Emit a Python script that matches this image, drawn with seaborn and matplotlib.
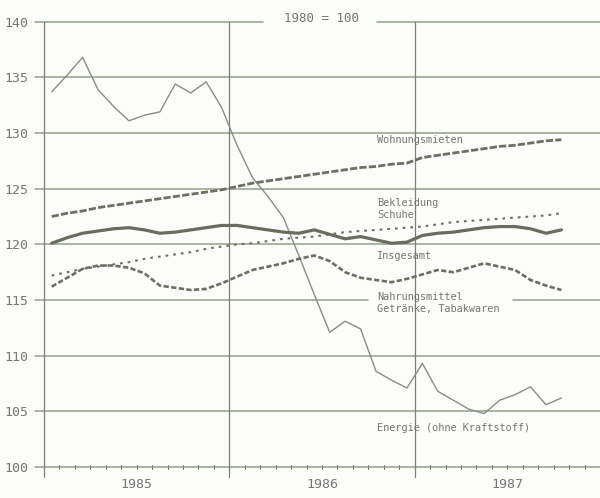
import numpy as np
import pandas as pd
import seaborn as sns
import matplotlib.pyplot as plt

# Monthly index values, 1980 = 100, Jan 1985 .. Oct 1987
months = np.arange(34) + 0.5

energie = [133.7, 135.2, 136.8, 133.9, 132.4, 131.1, 131.6, 131.9, 134.4, 133.6,
           134.6, 132.3, 128.9, 126.0, 124.3, 122.4, 119.0, 115.5, 112.1, 113.1,
           112.4, 108.6, 107.8, 107.1, 109.3, 106.8, 106.0, 105.2, 104.8, 106.0,
           106.5, 107.2, 105.6, 106.2]
wohnungsmieten = [122.5, 122.8, 123.0, 123.3, 123.5, 123.7, 123.9, 124.1, 124.3, 124.5,
                  124.7, 124.9, 125.2, 125.5, 125.7, 125.9, 126.1, 126.3, 126.5, 126.7,
                  126.9, 127.0, 127.2, 127.3, 127.8, 128.0, 128.2, 128.4, 128.6, 128.8,
                  128.9, 129.1, 129.3, 129.4]
bekleidung = [117.2, 117.5, 117.8, 118.0, 118.2, 118.4, 118.7, 118.9, 119.1, 119.3,
              119.6, 119.8, 120.0, 120.1, 120.3, 120.5, 120.6, 120.7, 120.9, 121.1,
              121.2, 121.3, 121.4, 121.5, 121.6, 121.8, 122.0, 122.1, 122.2, 122.3,
              122.4, 122.5, 122.6, 122.8]
insgesamt = [120.1, 120.6, 121.0, 121.2, 121.4, 121.5, 121.3, 121.0, 121.1, 121.3,
             121.5, 121.7, 121.7, 121.5, 121.3, 121.1, 121.0, 121.3, 120.9, 120.5,
             120.7, 120.4, 120.1, 120.2, 120.8, 121.0, 121.1, 121.3, 121.5, 121.6,
             121.6, 121.4, 121.0, 121.3]
nahrung = [116.2, 117.0, 117.8, 118.1, 118.1, 117.9, 117.4, 116.3, 116.1, 115.9,
           116.0, 116.5, 117.1, 117.7, 118.0, 118.3, 118.7, 119.0, 118.5, 117.5,
           117.0, 116.8, 116.6, 116.9, 117.3, 117.7, 117.5, 117.9, 118.3, 118.0,
           117.7, 116.8, 116.3, 115.9]

years = ["1985", "1986", "1987"]
y_ticks = [100, 105, 110, 115, 120, 125, 130, 135, 140]

series = {
    "Energie": energie,
    "Wohnungsmieten": wohnungsmieten,
    "Bekleidung": bekleidung,
    "Insgesamt": insgesamt,
    "Nahrung": nahrung,
}
df = pd.concat([pd.DataFrame({"month": months, "value": v, "series": k})
                for k, v in series.items()], ignore_index=True)

sns.set_style("white")
plt.rcParams["font.family"] = ["DejaVu Sans Mono"]

grid_col = "#93a08b"
text_col = "#757575"
line_col = "#6e6e64"

fig = plt.figure(figsize=(6, 4.98), dpi=100, facecolor="#fcfcfa")
ax = fig.add_axes([0.0733, 0.0622, 0.9267, 0.8942])
ax.set_facecolor("#fcfcfa")

styles = {
    "Energie": dict(color="#8c8c86", linewidth=1.0, linestyle="-"),
    "Wohnungsmieten": dict(color=line_col, linewidth=2.0, linestyle=(0, (2.6, 0.8))),
    "Bekleidung": dict(color=line_col, linewidth=1.5, linestyle=(0, (1.3, 2.4))),
    "Insgesamt": dict(color="#6a6c5e", linewidth=2.3, linestyle="-"),
    "Nahrung": dict(color=line_col, linewidth=1.9, linestyle=(0, (2.0, 0.9))),
}
for name, st in styles.items():
    sns.lineplot(data=df[df["series"] == name], x="month", y="value", ax=ax,
                 legend=False, zorder=3, **st)

ax.set_xlim(0, 36)
ax.set_ylim(100, 140)
for s in ax.spines.values():
    s.set_visible(False)

# horizontal grid, extending a little left of the axis
px = 36 / 556  # months per pixel
for y in y_ticks:
    if y == 140:
        segs = [(-9 * px, 14.16), (21.56, 36)]
    elif y == 115:
        segs = [(-9 * px, 20.95), (30.37, 36)]
    else:
        segs = [(-9 * px, 36)]
    for x0, x1 in segs:
        ax.plot([x0, x1], [y, y], color=grid_col, linewidth=1.1, clip_on=False, zorder=1)

# vertical year lines
for x in [0, 12, 24]:
    ax.plot([x, x], [99.1, 140], color="#7e7e76", linewidth=0.9, clip_on=False, zorder=1)

# monthly ticks on the bottom line
for x in range(37):
    ax.plot([x, x], [99.8, 100.2], color="#7e7e76", linewidth=0.8, clip_on=False, zorder=1)

ax.set_yticks(y_ticks)
ax.set_yticklabels([str(v) for v in y_ticks])
ax.set_xticks([6, 18, 30])
ax.set_xticklabels(years)
ax.tick_params(axis="both", length=0, labelsize=9.5, labelcolor=text_col)
ax.tick_params(axis="y", pad=11)
ax.tick_params(axis="x", pad=8)
ax.set_xlabel("")
ax.set_ylabel("")

ax.text(18, 140.3, "1980 = 100", ha="center", va="center", fontsize=9, color=text_col)

lab = dict(ha="left", va="center", fontsize=7.4, color=text_col)
x_lab = 21.56
ax.text(x_lab, 129.4, "Wohnungsmieten", **lab)
ax.text(x_lab, 123.7, "Bekleidung", **lab)
ax.text(x_lab, 122.6, "Schuhe", **lab)
ax.text(x_lab, 118.95, "Insgesamt", **lab)
ax.text(x_lab, 115.3, "Nahrungsmittel", **lab)
ax.text(x_lab, 114.2, "Getränke, Tabakwaren", **lab)
ax.text(x_lab, 103.5, "Energie (ohne Kraftstoff)", **lab)

fig.savefig("out.png", dpi=100, facecolor=fig.get_facecolor())
